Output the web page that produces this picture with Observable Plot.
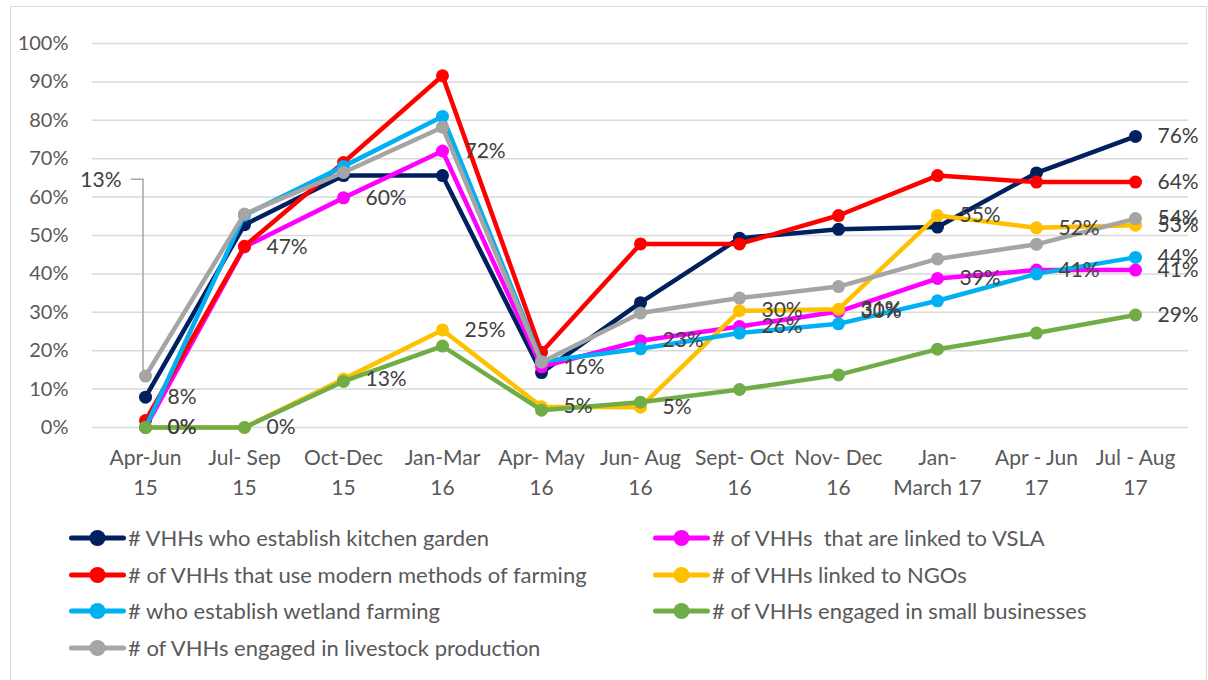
<!DOCTYPE html>
<html>
<head>
<meta charset="utf-8">
<script src="https://cdn.jsdelivr.net/npm/d3@7"></script>
<script src="https://cdn.jsdelivr.net/npm/@observablehq/plot@0.6"></script>
<style>
  body { margin: 0; background: #fff; font-family: Lato, "Open Sans", sans-serif; }
  #frame { position: absolute; left: 10px; top: 6px; width: 1197px; height: 720px; border: 1.5px solid #d9d9d9; box-sizing: border-box; }
  #chart { position: absolute; left: 0; top: 0; }
  #legend { position: absolute; left: 0; top: 0; width: 1208px; height: 680px; pointer-events: none; }
  .item { position: absolute; display: flex; align-items: center; font-size: 22px; color: #595959; white-space: pre; line-height: 24px; }
  .item svg { margin-right: 2px; flex: none; }
</style>
</head>
<body>
<div id="frame"></div>
<div id="chart"></div>
<div id="legend"></div>
<script>
const periods = ["Apr-Jun\n15","Jul- Sep\n15","Oct-Dec\n15","Jan-Mar\n16","Apr- May\n16","Jun- Aug\n16","Sept- Oct\n16","Nov- Dec\n16","Jan-\nMarch 17","Apr - Jun\n17","Jul - Aug\n17"];

const seriesNames = [
  "# VHHs who establish kitchen garden",
  "# of VHHs  that are linked to VSLA",
  "# of VHHs that use modern methods of farming",
  "# of VHHs linked to NGOs",
  "# who establish wetland farming",
  "# of VHHs engaged in small businesses",
  "# of VHHs engaged in livestock production"
];
const seriesColors = ["#002060","#FF00FF","#FF0000","#FFC000","#00B0F0","#70AD47","#A5A5A5"];

const kitchen   = [7.9, 52.8, 65.6, 65.6, 14.3, 32.5, 49.3, 51.6, 52.2, 66.3, 75.8];
const vsla      = [0, 47, 59.8, 72, 15.8, 22.6, 26.3, 30.2, 38.8, 41, 41];
const modern    = [1.8, 47.2, 69, 91.6, 19.6, 47.8, 47.8, 55.2, 65.6, 63.9, 63.9];
const ngo       = [0, 0, 12.6, 25.4, 5.4, 5.3, 30.4, 30.8, 55.2, 52, 52.7];
const wetland   = [0, 55.3, 68, 81, 17.2, 20.5, 24.6, 27, 33, 40, 44.3];
const small     = [0, 0, 12, 21.2, 4.5, 6.6, 9.9, 13.7, 20.4, 24.6, 29.3];
const livestock = [13.4, 55.6, 66.4, 78.2, 17, 29.8, 33.7, 36.7, 43.9, 47.7, 54.4];

const seriesValues = [kitchen, vsla, modern, ngo, wetland, small, livestock];
const yTicks = [0,10,20,30,40,50,60,70,80,90,100];

// which series carry data labels: all points / first point / last point
const labelAll = [1, 3];          // VSLA, NGOs
const labelFirst = [0];           // kitchen garden
const labelLast = [0, 2, 4, 5, 6];

const data = [];
seriesValues.forEach((vals, s) => vals.forEach((v, i) => data.push({series: s, period: periods[i], i, value: v})));

const labels = data.filter(d =>
  labelAll.includes(d.series) ||
  (labelFirst.includes(d.series) && d.i === 0) ||
  (labelLast.includes(d.series) && d.i === periods.length - 1));

const marks = [
  Plot.gridY(yTicks, {stroke: "#d9d9d9", strokeOpacity: 1, strokeWidth: 1.5}),
  Plot.axisY(yTicks, {tickSize: 0, tickPadding: 24, tickFormat: d => d + "%", fontSize: 20, fill: "#595959", label: null}),
  Plot.axisX({tickSize: 0, tickPadding: 17, fontSize: 21, fill: "#595959", lineHeight: 1.4, label: null})
];
seriesValues.forEach((vals, s) => {
  const sd = data.filter(d => d.series === s);
  marks.push(Plot.line(sd, {x: "period", y: "value", stroke: seriesColors[s], strokeWidth: 4.5, strokeLinejoin: "round"}));
  marks.push(Plot.dot(sd, {x: "period", y: "value", r: 6.5, fill: seriesColors[s]}));
});
// leader line for the moved livestock label
marks.push((index, scales) => {
  const x0 = scales.x(periods[0]);
  const yp = scales.y(livestock[0]);
  const yl = scales.y(64.5);
  const p = document.createElementNS("http://www.w3.org/2000/svg", "path");
  p.setAttribute("d", `M${x0 - 14},${yl}H${x0 - 2}V${yp - 5}`);
  p.setAttribute("fill", "none");
  p.setAttribute("stroke", "#A5A5A5");
  p.setAttribute("stroke-width", "1.5");
  return p;
});
marks.push(Plot.text([{p: periods[0], v: livestock[0]}], {x: "p", y: () => 64.5, text: d => Math.round(d.v) + "%", textAnchor: "end", dx: -24, fontSize: 21, fill: "#404040"}));
marks.push(Plot.text(labels, {x: "period", y: "value", text: d => Math.round(d.value) + "%", textAnchor: "start", dx: 22, fontSize: 21, fill: "#404040"}));

const chart = Plot.plot({
  width: 1208,
  height: 510,
  marginLeft: 92,
  marginRight: 20,
  marginTop: 43,
  marginBottom: 83,
  style: {fontFamily: "Lato, 'Open Sans', sans-serif", background: "transparent", overflow: "visible"},
  x: {type: "point", domain: periods, padding: 0.5},
  y: {domain: [0, 100]},
  marks
});
document.getElementById("chart").appendChild(chart);

// legend
const legend = document.getElementById("legend");
seriesNames.forEach((name, s) => {
  const col = s % 2, row = Math.floor(s / 2);
  const item = document.createElement("div");
  item.className = "item";
  item.style.left = (col === 0 ? 69 : 653) + "px";
  item.style.top = (538 + row * 36.7 - 12) + "px";
  item.innerHTML = `<svg width="57" height="24"><line x1="2.5" y1="12" x2="54.5" y2="12" stroke="${seriesColors[s]}" stroke-width="5" stroke-linecap="round"/><circle cx="28.5" cy="12" r="8" fill="${seriesColors[s]}"/></svg><span>${name}</span>`;
  legend.appendChild(item);
});
</script>
</body>
</html>
